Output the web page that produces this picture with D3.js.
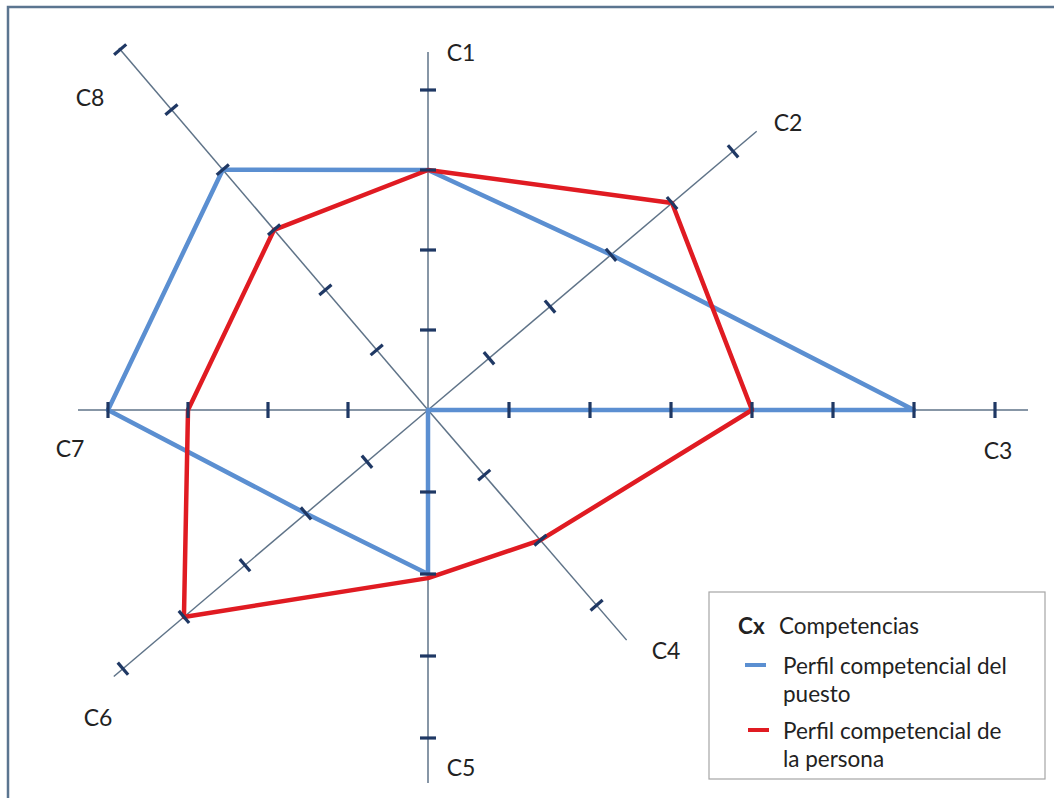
<!DOCTYPE html>
<html>
<head>
<meta charset="utf-8">
<script src="https://cdn.jsdelivr.net/npm/d3@7"></script>
<style>
  body { margin: 0; background: #fff; }
  text { font-family: Lato, "Open Sans", sans-serif; fill: #222; }
</style>
</head>
<body>
<div id="vis"></div>
<script>
// data
const COMPETENCIAS = ["C1", "C2", "C3", "C4", "C5", "C6", "C7", "C8"];
const PERFIL_PUESTO = [3, 3, 6, 0, 2, 2, 4, 4];
const PERFIL_PERSONA = [3, 4, 4, 2, 2.05, 4, 3, 3];
const TICKS_POR_EJE = [4, 5, 7, 3, 4, 5, 4, 6];
const LEYENDA = ["Perfil competencial del|puesto", "Perfil competencial de|la persona"];

// layout
const FRAME_WIDTH = 1054;
const FRAME_HEIGHT = 798;
const CENTER = {x: 428, y: 410};
// angle of each axis, degrees clockwise from up
const AXIS_ANGLE = [0, 49.7, 90, 139.2, 180, 229.7, 270, 319.5];
const AXIS_UNIT = [80, 80, 81, 86, 82, 80, 80, 79];
const AXIS_LENGTH = [358, 431, 600, 304, 373, 412, 350, 476];
const LABEL_POS = [[461, 52], [788, 122], [998, 450], [666, 650],
                   [461, 767], [98, 717], [70, 448], [90, 97]];

const COLORS = {axis: "#5f7388", tick: "#1f3864", puesto: "#5b8fd1", persona: "#e01b22"};

const FRAME = d3.select("#vis")
  .append("svg")
    .attr("width", FRAME_WIDTH)
    .attr("height", FRAME_HEIGHT);

// outer frame
FRAME.append("rect")
  .attr("x", 8).attr("y", 7)
  .attr("width", FRAME_WIDTH + 20).attr("height", FRAME_HEIGHT + 20)
  .attr("fill", "none")
  .attr("stroke", "#5b7590")
  .attr("stroke-width", 2.5);

// one scale per axis
const SCALES = TICKS_POR_EJE.map((n, i) => d3.scaleLinear()
  .domain([0, n])
  .range([0, n * AXIS_UNIT[i]]));

function point(i, v) {
  const a = AXIS_ANGLE[i] * Math.PI / 180;
  const r = SCALES[i](v);
  return [CENTER.x + r * Math.sin(a), CENTER.y - r * Math.cos(a)];
}

function endPoint(i) {
  const a = AXIS_ANGLE[i] * Math.PI / 180;
  return [CENTER.x + AXIS_LENGTH[i] * Math.sin(a), CENTER.y - AXIS_LENGTH[i] * Math.cos(a)];
}

// axis lines
FRAME.selectAll(".axis")
  .data(COMPETENCIAS)
  .enter()
  .append("line")
    .attr("class", "axis")
    .attr("x1", CENTER.x).attr("y1", CENTER.y)
    .attr("x2", (d, i) => endPoint(i)[0])
    .attr("y2", (d, i) => endPoint(i)[1])
    .attr("stroke", COLORS.axis)
    .attr("stroke-width", 1.5);

// profiles
const line = d3.line().curve(d3.curveLinearClosed);

FRAME.append("path")
  .attr("d", line(PERFIL_PUESTO.map((v, i) => point(i, v))))
  .attr("fill", "none")
  .attr("stroke", COLORS.puesto)
  .attr("stroke-width", 4.5)
  .attr("stroke-linejoin", "round");

FRAME.append("path")
  .attr("d", line(PERFIL_PERSONA.map((v, i) => point(i, v))))
  .attr("fill", "none")
  .attr("stroke", COLORS.persona)
  .attr("stroke-width", 4.5)
  .attr("stroke-linejoin", "round");

// tick marks, drawn perpendicular to each axis
COMPETENCIAS.forEach((c, i) => {
  const a = AXIS_ANGLE[i] * Math.PI / 180;
  const px = Math.cos(a) * 8, py = Math.sin(a) * 8;
  FRAME.selectAll(".tick" + i)
    .data(SCALES[i].ticks(TICKS_POR_EJE[i]).filter(t => t > 0))
    .enter()
    .append("line")
      .attr("x1", t => point(i, t)[0] - px)
      .attr("y1", t => point(i, t)[1] - py)
      .attr("x2", t => point(i, t)[0] + px)
      .attr("y2", t => point(i, t)[1] + py)
      .attr("stroke", COLORS.tick)
      .attr("stroke-width", 3.2);
});

// axis labels
FRAME.selectAll(".label")
  .data(COMPETENCIAS)
  .enter()
  .append("text")
    .attr("x", (d, i) => LABEL_POS[i][0])
    .attr("y", (d, i) => LABEL_POS[i][1])
    .attr("text-anchor", "middle")
    .attr("dominant-baseline", "central")
    .attr("font-size", "23px")
    .text(d => d);

// legend
const LEG = FRAME.append("g");
LEG.append("rect")
  .attr("x", 709).attr("y", 592)
  .attr("width", 336).attr("height", 187)
  .attr("fill", "#fff")
  .attr("stroke", "#a6a6a6")
  .attr("stroke-width", 1.2);

LEG.append("text")
  .attr("x", 738).attr("y", 625)
  .attr("dominant-baseline", "central")
  .attr("font-size", "22.5px")
  .attr("font-weight", "bold")
  .text("Cx");
LEG.append("text")
  .attr("x", 779).attr("y", 625)
  .attr("dominant-baseline", "central")
  .attr("font-size", "22.5px")
  .text("Competencias");

const legColors = [COLORS.puesto, COLORS.persona];
LEYENDA.forEach((label, k) => {
  const y0 = 665 + k * 65;
  LEG.append("line")
    .attr("x1", 745 + k * 3).attr("x2", 766 + k * 3)
    .attr("y1", y0).attr("y2", y0)
    .attr("stroke", legColors[k])
    .attr("stroke-width", 4);
  label.split("|").forEach((part, j) => {
    LEG.append("text")
      .attr("x", 783).attr("y", y0 + j * 28)
      .attr("dominant-baseline", "central")
      .attr("font-size", "22.5px")
      .text(part);
  });
});
</script>
</body>
</html>
